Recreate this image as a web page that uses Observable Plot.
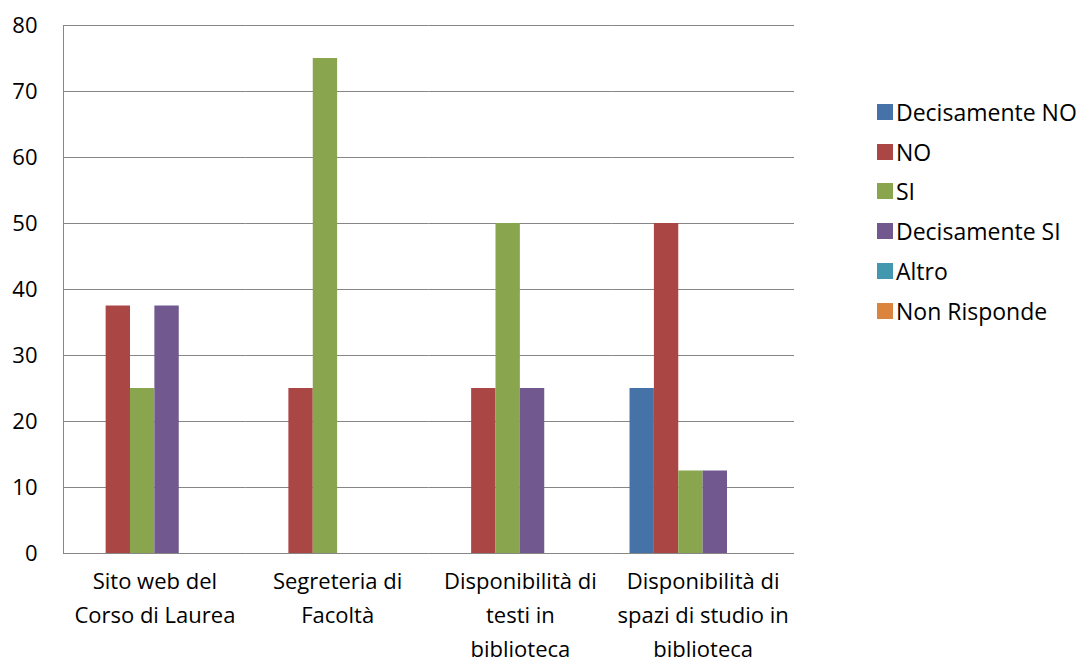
<!DOCTYPE html>
<html><head><meta charset="utf-8">
<script src="https://cdn.jsdelivr.net/npm/d3@7"></script>
<script src="https://cdn.jsdelivr.net/npm/@observablehq/plot@0.6"></script>
<style>
body{margin:0;background:#fff;font-family:"Open Sans",sans-serif;}
#wrap{position:relative;width:1081px;height:663px;}
#legend{position:absolute;left:877px;top:92px;}
.item{display:flex;align-items:center;height:39.8px;font-size:23px;color:#000;white-space:nowrap;}
.sw{width:16px;height:16px;margin-right:3px;flex:none;}
</style></head><body><div id="wrap"><div id="chart"></div><div id="legend"></div></div>
<script>
const categories = ["Sito web del Corso di Laurea", "Segreteria di Facoltà", "Disponibilità di testi in biblioteca", "Disponibilità di spazi di studio in biblioteca"];
const tickLabels = ["Sito web del\nCorso di Laurea", "Segreteria di\nFacoltà", "Disponibilità di\ntesti in\nbiblioteca", "Disponibilità di\nspazi di studio in\nbiblioteca"];
const series = ["Decisamente NO", "NO", "SI", "Decisamente SI", "Altro", "Non Risponde"];
const colors = ["#4572A7", "#AA4643", "#89A54E", "#71588F", "#4198AF", "#DB843D"];
const decisamenteNO = [0, 0, 0, 25];
const no = [37.5, 25, 25, 50];
const si = [25, 75, 50, 12.5];
const decisamenteSI = [37.5, 0, 25, 12.5];
const altro = [0, 0, 0, 0];
const nonRisponde = [0, 0, 0, 0];
const yTicks = [0, 10, 20, 30, 40, 50, 60, 70, 80];

const values = [decisamenteNO, no, si, decisamenteSI, altro, nonRisponde];
const data = categories.flatMap((c, i) => series.map((s, j) => ({category: c, series: s, value: values[j][i]})));

const plot = Plot.plot({
  width: 1081, height: 663,
  marginLeft: 63, marginRight: 287, marginTop: 25, marginBottom: 110,
  style: {fontFamily: "Open Sans", fontSize: "22px", color: "#000", background: "#fff"},
  fx: {domain: categories, padding: 0, label: null, round: false},
  x: {domain: series, paddingInner: 0, paddingOuter: 0.75, round: false, axis: null},
  y: {domain: [0, 80], label: null},
  color: {domain: series, range: colors},
  marks: [
    Plot.gridY(yTicks, {stroke: "#868686", strokeOpacity: 1}),
    Plot.frame({anchor: "left", facetAnchor: "left", stroke: "#868686"}),
    Plot.barY(data, {fx: "category", x: "series", y: "value", fill: "series"}),
    Plot.axisY(yTicks, {tickSize: 0, tickPadding: 26, fontSize: 22, label: null}),
    Plot.axisFx({anchor: "bottom", tickSize: 0, tickPadding: 11, lineHeight: 1.55, fontSize: 22, label: null,
      tickFormat: d => tickLabels[categories.indexOf(d)]})
  ]
});
document.getElementById("chart").appendChild(plot);

const legend = document.getElementById("legend");
series.forEach((s, i) => {
  const item = document.createElement("div");
  item.className = "item";
  const sw = document.createElement("span");
  sw.className = "sw";
  sw.style.background = colors[i];
  item.appendChild(sw);
  item.appendChild(document.createTextNode(s));
  legend.appendChild(item);
});
</script>
</body></html>
